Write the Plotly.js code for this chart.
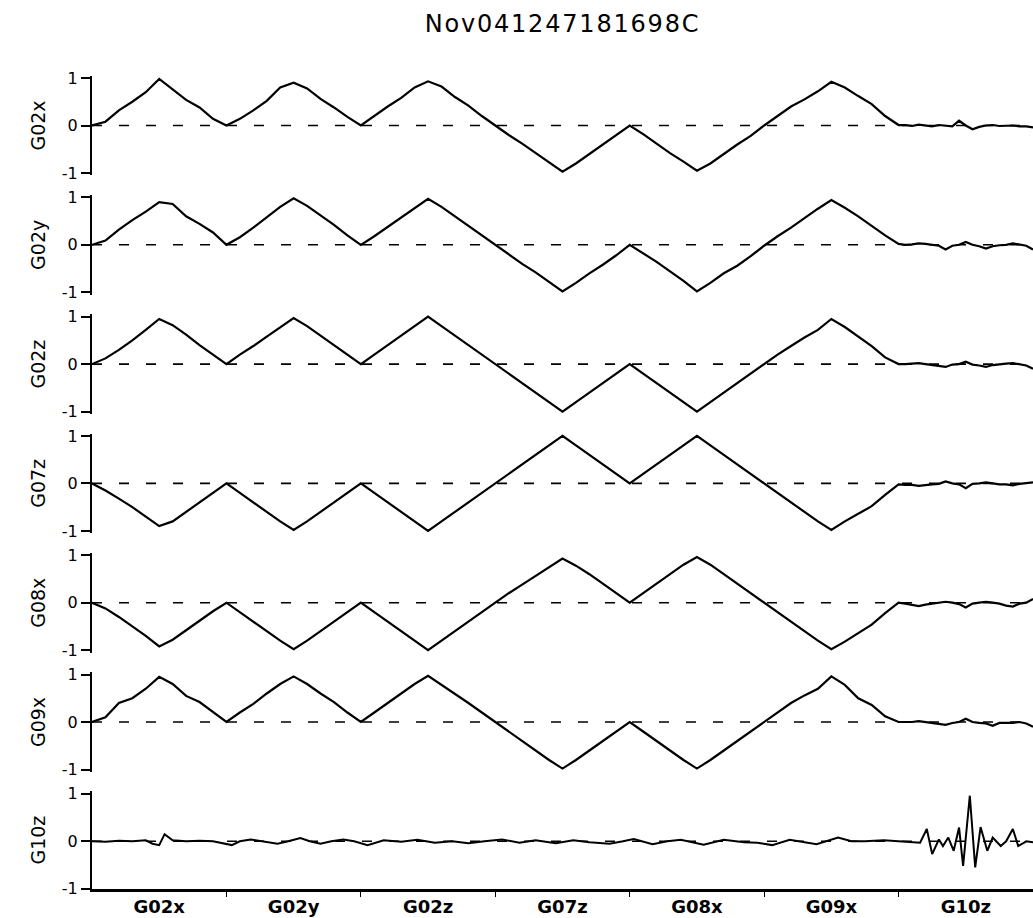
<!DOCTYPE html>
<html>
<head>
<meta charset="utf-8">
<script src="https://cdn.plot.ly/plotly-3.0.1.min.js"></script>
<style>html,body{margin:0;padding:0;background:#fff;}#chart{width:1033px;height:918px;}</style>
</head>
<body>
<div id="chart"></div>
<script>
// ---------- DATA ----------
const chartTitle = "Nov041247181698C";
const categories = ["G02x", "G02y", "G02z", "G07z", "G08x", "G09x", "G10z"];
const panelNames = ["G02x", "G02y", "G02z", "G07z", "G08x", "G09x", "G10z"];
const yTickVals = [-1, 0, 1];
const yTickText = ["-1", "0", "1"];

// shared sample positions (in category units) for the first six panels
const xGrid = [
  0, 0.1, 0.2, 0.3, 0.4, 0.5, 0.6, 0.7, 0.8, 0.9,
  1, 1.1, 1.2, 1.3, 1.4, 1.5, 1.6, 1.7, 1.8, 1.9,
  2, 2.1, 2.2, 2.3, 2.4, 2.5, 2.6, 2.7, 2.8, 2.9,
  3, 3.1, 3.2, 3.3, 3.4, 3.5, 3.6, 3.7, 3.8, 3.9,
  4, 4.1, 4.2, 4.3, 4.4, 4.5, 4.6, 4.7, 4.8, 4.9,
  5, 5.1, 5.2, 5.3, 5.4, 5.5, 5.6, 5.7, 5.8, 5.9,
  6, 6.05, 6.1, 6.15, 6.2, 6.25, 6.3, 6.35, 6.4, 6.45, 6.5,
  6.55, 6.6, 6.65, 6.7, 6.75, 6.8, 6.85, 6.9, 6.95, 7
];

const G02x = [
  0, 0.08, 0.32, 0.5, 0.7, 0.98, 0.76, 0.54, 0.38, 0.14, 0,
  0.14, 0.32, 0.52, 0.8, 0.9, 0.78, 0.56, 0.38, 0.18, 0,
  0.2, 0.4, 0.58, 0.8, 0.93, 0.82, 0.6, 0.42, 0.2, 0,
  -0.2, -0.38, -0.58, -0.78, -0.97, -0.8, -0.6, -0.4, -0.2, 0,
  -0.18, -0.38, -0.58, -0.76, -0.95, -0.8, -0.6, -0.4, -0.22, 0,
  0.2, 0.4, 0.55, 0.72, 0.92, 0.8, 0.62, 0.45, 0.2, 0.01,
  0.01, -0.01, 0.02, 0, -0.02, 0.01, 0, -0.02, 0.1, 0,
  -0.08, -0.03, 0, 0.01, -0.01, 0, 0, -0.02, -0.02, -0.04
];
const G02y = [
  0, 0.09, 0.32, 0.52, 0.7, 0.9, 0.86, 0.6, 0.44, 0.26, 0,
  0.16, 0.36, 0.58, 0.8, 0.98, 0.82, 0.62, 0.42, 0.2, 0,
  0.18, 0.38, 0.58, 0.78, 0.97, 0.8, 0.6, 0.4, 0.2, 0,
  -0.2, -0.4, -0.58, -0.78, -0.98, -0.8, -0.6, -0.42, -0.22, 0,
  -0.18, -0.36, -0.56, -0.76, -0.98, -0.8, -0.6, -0.44, -0.24, -0.02,
  0.18, 0.36, 0.56, 0.76, 0.94, 0.78, 0.6, 0.4, 0.2, 0.02,
  0, 0.01, 0.03, 0.02, 0, -0.02, -0.1, -0.02, 0, 0.06,
  0, -0.03, -0.08, -0.03, -0.01, 0, 0.03, 0.01, -0.02, -0.1
];
const G02z = [
  0, 0.12, 0.3, 0.5, 0.72, 0.95, 0.82, 0.62, 0.4, 0.2, 0,
  0.2, 0.38, 0.58, 0.78, 0.97, 0.8, 0.6, 0.4, 0.2, 0,
  0.2, 0.4, 0.6, 0.8, 1.0, 0.8, 0.6, 0.4, 0.2, 0,
  -0.2, -0.4, -0.6, -0.8, -1.0, -0.8, -0.6, -0.4, -0.2, 0,
  -0.2, -0.4, -0.6, -0.8, -1.0, -0.8, -0.6, -0.4, -0.2, 0,
  0.2, 0.38, 0.56, 0.72, 0.95, 0.78, 0.58, 0.38, 0.14, 0,
  0, 0.01, 0.02, 0, -0.02, -0.03, -0.06, -0.01, 0, 0.05,
  -0.01, -0.03, -0.06, -0.02, 0, 0.01, 0.02, 0, -0.03, -0.1
];
const G07z = [
  0, -0.15, -0.32, -0.5, -0.7, -0.9, -0.8, -0.6, -0.4, -0.2, 0,
  -0.2, -0.4, -0.6, -0.8, -0.98, -0.8, -0.6, -0.4, -0.2, 0,
  -0.2, -0.4, -0.6, -0.8, -1.0, -0.8, -0.6, -0.4, -0.2, 0,
  0.2, 0.4, 0.6, 0.8, 1.0, 0.8, 0.6, 0.4, 0.2, 0,
  0.2, 0.4, 0.6, 0.8, 1.0, 0.8, 0.6, 0.4, 0.2, 0,
  -0.2, -0.4, -0.6, -0.8, -0.98, -0.8, -0.64, -0.48, -0.24, -0.02,
  -0.03, -0.03, -0.05, -0.03, -0.02, -0.01, 0.04, 0, -0.02, -0.1,
  -0.01, 0, 0.02, 0, -0.02, -0.02, -0.04, -0.01, 0, 0.02
];
const G08x = [
  0, -0.12, -0.3, -0.5, -0.7, -0.92, -0.78, -0.58, -0.38, -0.18, 0,
  -0.2, -0.4, -0.6, -0.8, -0.98, -0.8, -0.6, -0.4, -0.2, 0,
  -0.2, -0.4, -0.6, -0.8, -1.0, -0.8, -0.6, -0.4, -0.2, 0,
  0.2, 0.38, 0.56, 0.74, 0.93, 0.78, 0.6, 0.4, 0.2, 0,
  0.2, 0.4, 0.6, 0.8, 0.96, 0.8, 0.6, 0.4, 0.2, 0,
  -0.2, -0.4, -0.6, -0.8, -0.98, -0.82, -0.64, -0.46, -0.22, 0,
  -0.02, -0.04, -0.07, -0.04, -0.02, -0.01, 0.02, 0, -0.03, -0.1,
  -0.02, 0, 0.02, 0, -0.02, -0.06, -0.08, -0.02, 0, 0.08
];
const G09x = [
  0, 0.1, 0.4, 0.5, 0.7, 0.95, 0.8, 0.55, 0.42, 0.2, 0,
  0.2, 0.38, 0.6, 0.8, 0.96, 0.8, 0.6, 0.42, 0.2, 0,
  0.2, 0.4, 0.6, 0.8, 0.97, 0.78, 0.6, 0.4, 0.2, 0,
  -0.2, -0.4, -0.6, -0.8, -0.98, -0.8, -0.6, -0.4, -0.2, 0,
  -0.2, -0.4, -0.6, -0.8, -0.98, -0.8, -0.6, -0.4, -0.2, 0,
  0.2, 0.4, 0.56, 0.7, 0.96, 0.78, 0.5, 0.36, 0.12, 0,
  0, 0, 0.02, 0, -0.01, -0.03, -0.06, -0.02, 0, 0.07,
  0, -0.02, -0.03, -0.08, -0.02, -0.02, -0.02, 0, -0.03, -0.1
];

// the last panel has its own (denser at the end) sample positions
const xG10z = [
  0, 0.1, 0.2, 0.3, 0.4, 0.45, 0.5, 0.54, 0.6, 0.7, 0.8, 0.9,
  1.04, 1.1, 1.18, 1.28, 1.38, 1.46, 1.55, 1.62, 1.7, 1.78, 1.87, 1.95,
  2.05, 2.17, 2.3, 2.42, 2.55, 2.68, 2.8, 2.92,
  3.05, 3.18, 3.3, 3.45, 3.58, 3.7, 3.85, 3.95,
  4.03, 4.17, 4.28, 4.38, 4.55, 4.7, 4.85, 4.95,
  5.06, 5.19, 5.3, 5.39, 5.55, 5.65, 5.75, 5.89,
  6.0, 6.1, 6.16, 6.21, 6.25, 6.3, 6.33, 6.37, 6.41, 6.45, 6.48,
  6.53, 6.57, 6.61, 6.66, 6.7, 6.76, 6.8, 6.85, 6.89, 6.95, 7.0
];
const G10z = [
  0, -0.01, 0.01, 0, 0.02, -0.05, -0.08, 0.15, 0.02, 0, 0.01, 0,
  -0.08, 0, 0.04, 0, -0.05, 0, 0.07, 0, -0.05, 0, 0.04, 0,
  -0.08, 0.02, -0.01, 0.03, -0.03, 0, -0.04, 0,
  0.04, -0.03, 0.02, -0.04, 0.02, -0.02, -0.05, 0,
  0.05, -0.06, 0, 0.03, -0.07, 0.03, -0.02, -0.03,
  -0.08, 0.03, -0.02, -0.06, 0.08, 0, 0, 0.02,
  0, -0.02, -0.03, 0.26, -0.27, 0.04, -0.1, 0.08, -0.2, 0.29, -0.52,
  0.96, -0.55, 0.3, -0.2, 0.08, -0.1, 0, 0.26, -0.1, 0, -0.02
];

const panelX = [xGrid, xGrid, xGrid, xGrid, xGrid, xGrid, xG10z];
const panelY = [G02x, G02y, G02z, G07z, G08x, G09x, G10z];

// ---------- LAYOUT ----------
const W = 1033, H = 918;
const M = {l: 92, r: 0, t: 70, b: 20};
const plotH = H - M.t - M.b;
const pxPerUnit = 47.5;
const firstTop = 78, pitch = 119.3;
const pad = 0.05;
const FONT = "DejaVu Sans, Verdana, sans-serif";

const traces = [];
const shapes = [];
const layout = {
  width: W, height: H,
  margin: M,
  paper_bgcolor: "#fff", plot_bgcolor: "#fff",
  font: {family: FONT, color: "#000", size: 16},
  showlegend: false,
  hovermode: false,
  title: {
    text: '<span style="letter-spacing:1.8px">' + chartTitle + '</span>',
    font: {family: FONT, size: 24, color: "#000"},
    xref: "paper", x: 0.5, xanchor: "center",
    yref: "container", y: 1 - 24 / H, yanchor: "middle"
  },
  xaxis: {
    range: [0, categories.length],
    anchor: "y" + panelNames.length,
    showgrid: false, zeroline: false,
    showline: true, linecolor: "#000", linewidth: 3,
    tickmode: "array",
    tickvals: categories.map((c, i) => i + 0.5),
    ticktext: categories,
    ticks: "",
    tickfont: {family: FONT, size: 18, color: "#000", weight: "bold"},
    minor: {
      tickmode: "array",
      tickvals: categories.slice(1).map((c, i) => i + 1),
      ticks: "outside", ticklen: 5, tickwidth: 1, tickcolor: "#000", showgrid: false
    },
    fixedrange: true
  },
  shapes: shapes
};

panelNames.forEach((name, k) => {
  const isLast = k === panelNames.length - 1;
  const yTopPx = firstTop + pitch * k;
  const yBotPx = yTopPx + 2 * pxPerUnit;
  const lo = isLast ? -1 : -1 - pad;
  const hi = 1 + pad;
  const topPx = yTopPx - pad * pxPerUnit;
  const botPx = isLast ? yBotPx : yBotPx + pad * pxPerUnit;
  const axKey = k === 0 ? "yaxis" : "yaxis" + (k + 1);
  const axRef = k === 0 ? "y" : "y" + (k + 1);
  layout[axKey] = {
    domain: [(H - M.b - botPx) / plotH, (H - M.b - topPx) / plotH],
    range: [lo, hi],
    anchor: "x",
    showgrid: false, zeroline: false,
    showline: true, linecolor: "#000", linewidth: 2,
    ticks: "outside", ticklen: 9, tickwidth: 2, tickcolor: "#000",
    tickmode: "array", tickvals: yTickVals, ticktext: yTickText,
    tickfont: {family: FONT, size: 16, color: "#000"},
    title: {text: name, font: {family: FONT, size: 19, color: "#000"}, standoff: 11},
    fixedrange: true
  };
  shapes.push({
    type: "line", xref: "x", yref: axRef,
    x0: 0, x1: categories.length, y0: 0, y1: 0,
    layer: "below",
    line: {color: "#000", width: 1.6, dash: "10px,17px"}
  });
  traces.push({
    type: "scatter", mode: "lines",
    x: panelX[k], y: panelY[k],
    xaxis: "x", yaxis: axRef,
    line: {color: "#000", width: isLast ? 2 : 2.2},
    hoverinfo: "skip"
  });
});

Plotly.newPlot("chart", traces, layout, {displayModeBar: false, staticPlot: true});
</script>
</body>
</html>
